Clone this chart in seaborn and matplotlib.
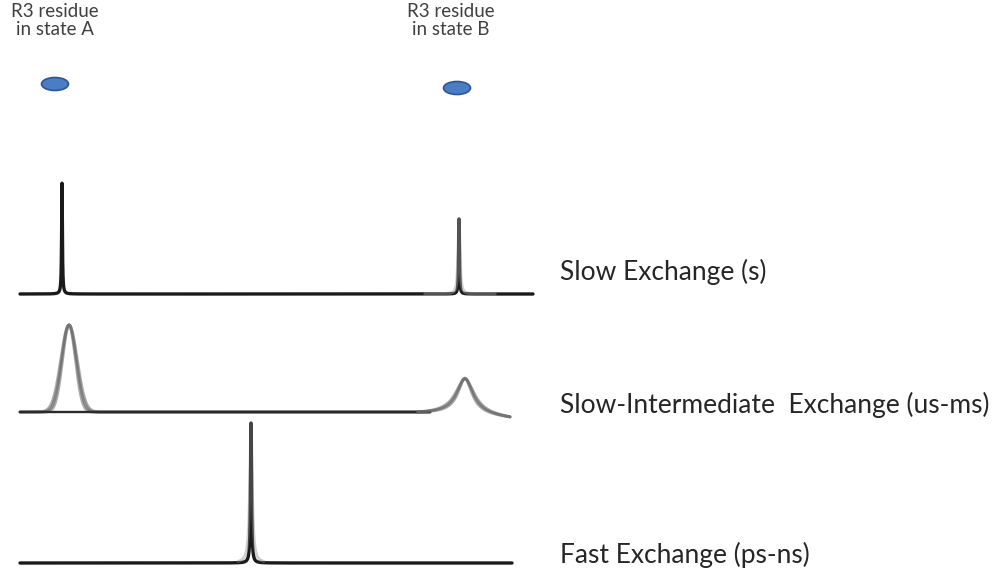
import numpy as np
import pandas as pd
import matplotlib
matplotlib.use("Agg")
import matplotlib.pyplot as plt
from matplotlib.patches import Ellipse
import seaborn as sns

# Regimes of chemical exchange, one spectrum row each
regimes = ["Slow Exchange (s)",
           "Slow-Intermediate  Exchange (us-ms)",
           "Fast Exchange (ps-ns)"]
baselines = [274, 156, 5]          # baseline level of each row
spans = [(20, 533), (20, 430), (20, 512)]

# Slow exchange: two sharp lines, one per state
slow_pos = [62, 459]
slow_height = [111, 75]
slow_hwhm = [0.45, 0.45]

# Slow-intermediate: broadened lines (overlaid traces of an ensemble)
si_a_pos = 69
si_a_height = 87
si_a_sigma = [6.5, 7.3, 8.1]
si_b_pos = 465
si_b_height = 35
si_b_hwhm = [8.5, 10.0, 11.5]
si_b_span = (418, 510)
si_b_drop = -5                      # baseline drift at the end of trace B

# Fast exchange: single averaged line
fast_pos = 251
fast_height = 140
fast_hwhm = 0.6

# Residue markers for the two states
state_labels = ["R3 residue\nin state A", "R3 residue\nin state B"]
state_x = [55, 451]
marker_x = [55, 457]
marker_y = [484, 480]

sns.set_theme(style="white")
plt.rcParams["font.family"] = ["Lato", "DejaVu Sans"]

fig = plt.figure(figsize=(9.92, 5.68), dpi=100)
ax = fig.add_axes([0, 0, 1, 1])
ax.set_xlim(0, 992)
ax.set_ylim(0, 568)
ax.axis("off")


def lorentz(x, x0, h, w):
    return h * w**2 / ((x - x0) ** 2 + w**2)


def gauss(x, x0, h, s):
    return h * np.exp(-0.5 * ((x - x0) / s) ** 2)


def trace(x, y, color, lw, alpha=1.0):
    df = pd.DataFrame({"x": x, "y": y})
    sns.lineplot(data=df, x="x", y="y", ax=ax, color=color, linewidth=lw,
                 alpha=alpha, estimator=None, sort=False)


# Row 1: slow exchange
x = np.linspace(*spans[0], 12000)
y = np.full_like(x, baselines[0], dtype=float)
for p, h, w in zip(slow_pos, slow_height, slow_hwhm):
    y += lorentz(x, p, h, w)
trace(x, y, "#1a1a1a", 2.4)
# lighter ensemble traces under line B
xb = np.linspace(425, 495, 1500)
trace(xb, baselines[0] + lorentz(xb, slow_pos[1], slow_height[1], 1.0),
      "#9a9a9a", 2.4, 0.45)

# Row 2: slow-intermediate exchange
x = np.linspace(*spans[1], 4000)
for s in si_a_sigma:
    trace(x, baselines[1] + gauss(x, si_a_pos, si_a_height, s), "#666666", 2.2, 0.55)
trace(x, np.full_like(x, baselines[1], dtype=float), "#2a2a2a", 1.7)
xb = np.linspace(*si_b_span, 2000)
drift = np.interp(xb, [si_b_span[0], si_b_pos, si_b_span[1]], [0, 0, si_b_drop])
for w in si_b_hwhm:
    yb = baselines[1] + drift + lorentz(xb, si_b_pos, si_b_height, w) \
        - lorentz(si_b_span[0], si_b_pos, si_b_height, w)
    trace(xb, yb, "#666666", 2.2, 0.55)

# Row 3: fast exchange
x = np.linspace(*spans[2], 12000)
trace(x, baselines[2] + lorentz(x, fast_pos, fast_height, fast_hwhm), "#1a1a1a", 2.4)
xf = np.linspace(238, 264, 600)
trace(xf, baselines[2] + lorentz(xf, fast_pos, fast_height, 1.4), "#8a8a8a", 2.2, 0.4)

# Row labels
text_baseline = [288, 155, 5]
for lab, yb in zip(regimes, text_baseline):
    ax.text(560, yb, lab, fontsize=19, color="#262626", ha="left", va="baseline")

# State labels and markers
for lab, sx in zip(state_labels, state_x):
    ax.text(sx, 565, lab, fontsize=13.5, color="#404040", ha="center", va="top",
            linespacing=1.1)
for mx, my in zip(marker_x, marker_y):
    ax.add_patch(Ellipse((mx, my), 27, 13, facecolor="#4a7dc4",
                         edgecolor="#2f5597", linewidth=1.2))

fig.savefig("out.png", dpi=100)
